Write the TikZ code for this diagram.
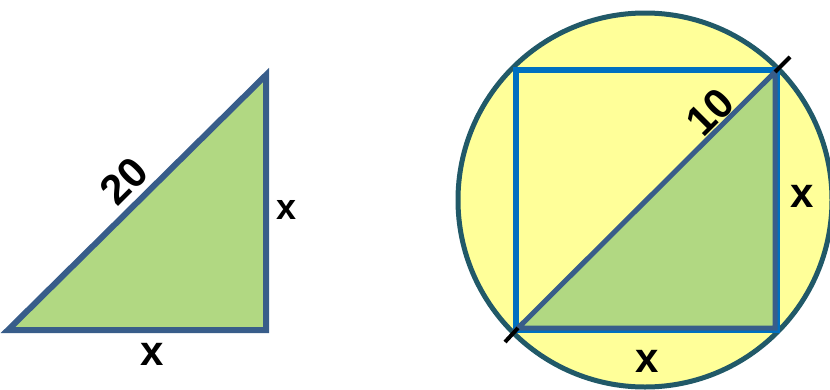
\documentclass[tikz,border=0pt]{standalone}
\usepackage{fontspec}
\setmainfont{Liberation Sans}
\definecolor{trigreen}{RGB}{177,216,130}
\definecolor{triedge}{RGB}{56,93,138}
\definecolor{circfill}{RGB}{255,255,153}
\definecolor{circedge}{RGB}{33,89,104}
\definecolor{sqblue}{RGB}{0,112,192}
\tikzset{
  tri/.style={fill=trigreen, draw=triedge, line width=6pt, line join=miter},
  lbl/.style={font=\bfseries\fontsize{42}{42}\selectfont, inner sep=0pt},
  tick/.style={draw=black, line width=4pt}
}
\begin{document}
\begin{tikzpicture}[x=1pt,y=-1pt]
\useasboundingbox (0,0) rectangle (830,389);
\clip (0,0) rectangle (830,389);
% left triangle
\coordinate (A) at (8,330);
\coordinate (B) at (266,330);
\coordinate (C) at (266,75);
\filldraw[tri] (A) -- (B) -- (C) -- cycle;
\node[lbl, rotate=45] (t20) at (124,181) {20};
\node[lbl, font=\bfseries\fontsize{36}{36}\selectfont] (xl) at (287,210) {x};
\node[lbl] (xb) at (152,354) {x};
% circle
\coordinate (O) at (645,200);
\filldraw[fill=circfill, draw=circedge, line width=5pt] (O) circle[radius=187];
% square
\coordinate (P) at (516,330);
\coordinate (Q) at (777,330);
\coordinate (R) at (777,70);
\coordinate (S) at (516,70);
\draw[sqblue, line width=6.5pt] (P) -- (Q) -- (R) -- (S) -- cycle;
% inner triangle
\coordinate (P2) at (518,328);
\coordinate (Q2) at (775,328);
\coordinate (R2) at (775,72);
\filldraw[tri, line width=5pt] (P2) -- (Q2) -- (R2) -- cycle;
% ticks
\coordinate (T1) at (790,57);
\coordinate (T2) at (505,342);
\draw[tick] (R2) -- (T1);
\draw[tick] (P2) -- (T2);
\node[lbl, rotate=45] (t10) at (710,112) {10};
\node[lbl] (xr) at (802,196) {x};
\node[lbl] (xs) at (647,361) {x};
\end{tikzpicture}
\end{document}
